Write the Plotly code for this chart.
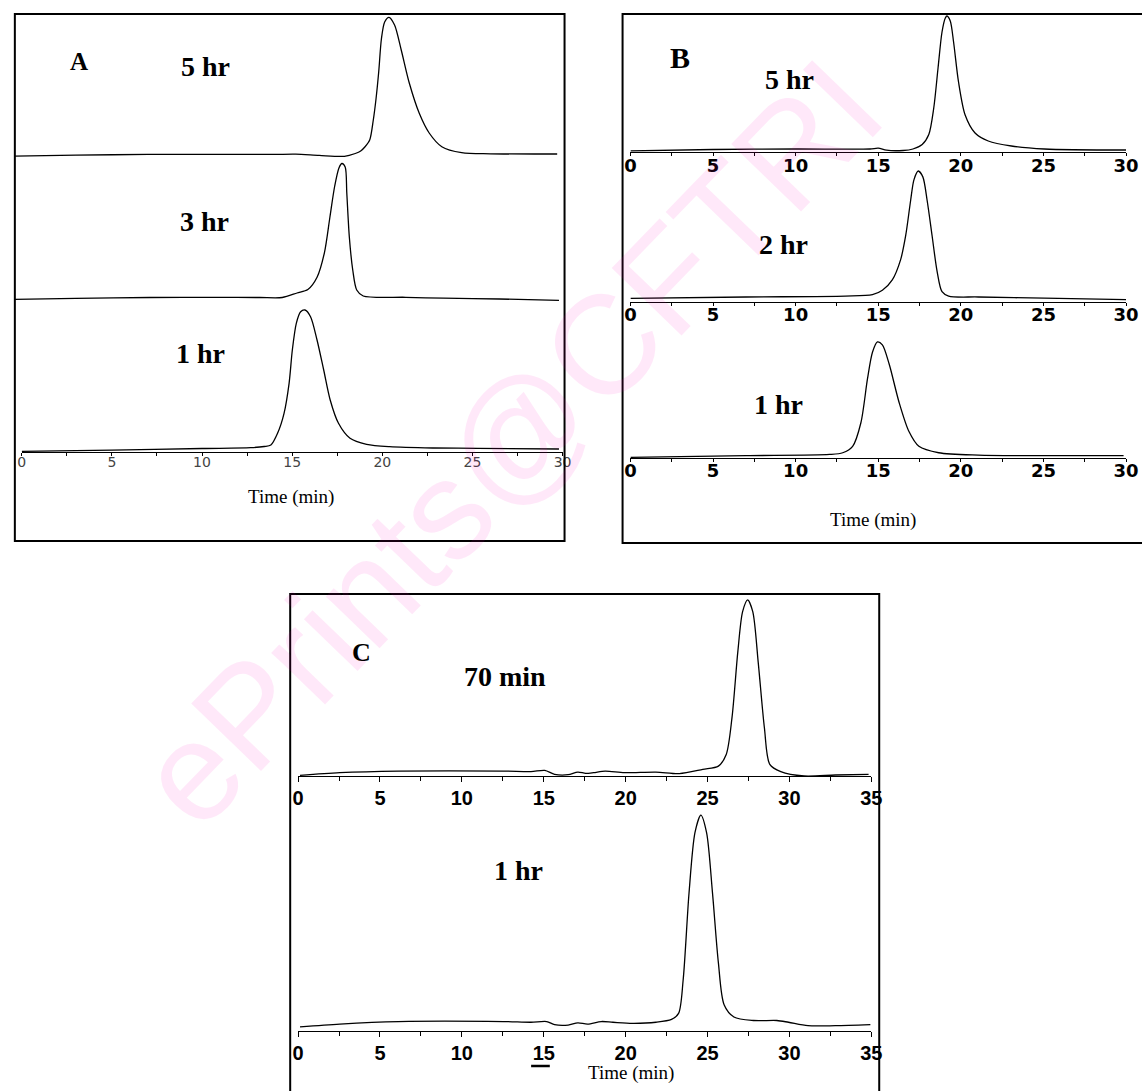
import plotly.graph_objects as go

W, H = 1142, 1091

# ---------------- data (time in min, signal in arbitrary detector units) ----------------
A_5hr_time = [-0.4, 3, 7, 11, 14, 15.2, 16.5, 17.9, 18.5, 18.8, 19.03, 19.3, 19.5, 19.65, 19.8, 19.95,
              20.13, 20.37, 20.68, 21.05, 21.5, 22.05, 22.6, 23.3, 24.4, 26, 29.7]
A_5hr_signal = [0.9, 1.8, 2.6, 2.6, 2.6, 2.8, 1.6, 0.7, 3.5, 6, 10, 17, 37, 58, 85, 118,
                135, 139.7, 132, 107, 73.7, 43.7, 24, 10.3, 4.3, 3.2, 3]

A_3hr_time = [-0.4, 3, 7.1, 11, 13.2, 14.45, 15.27, 15.87, 16.38, 16.79, 17.09, 17.36, 17.6, 17.76,
              17.94, 18.03, 18.17, 18.36, 18.58, 18.94, 21.3, 23.4, 26.5, 29.8]
A_3hr_signal = [0.7, 1.6, 2.5, 2.6, 2.5, 2.5, 7, 10.5, 22.8, 47.4, 82.5, 114, 132.3, 136.5,
                133, 107, 63, 30, 10, 4, 2.7, 1.8, 1, -0.4]

A_1hr_time = [0, 5, 10, 12.7, 13.45, 13.82, 14.19, 14.55, 14.83, 15.01, 15.23, 15.47, 15.71, 16.02,
              16.38, 16.75, 17.11, 17.57, 18.21, 19.13, 20.4, 22.8, 25.3, 29.8]
A_1hr_signal = [0.7, 1.8, 3.5, 4.3, 5.5, 7, 18.7, 38.7, 68.7, 102, 128.7, 140.3, 142, 135.3,
                112, 82, 52, 28.7, 13.7, 7.7, 5.3, 4, 3.7, 3]

B_5hr_time = [0, 5, 10, 14.5, 15.0, 15.5, 16.5, 17.1, 17.66, 18.06, 18.36, 18.62, 18.86, 19.06, 19.16,
              19.36, 19.56, 19.86, 20.26, 20.86, 21.66, 23.06, 25.06, 30]
B_5hr_signal = [1.2, 2.5, 3, 3, 3.8, 1.8, 1.5, 3, 7.5, 17.5, 44, 84, 120, 134, 136,
                131, 110, 70, 37, 19, 11, 6, 3, 2]

B_2hr_time = [0, 7.0, 13.0, 14.65, 15.25, 15.85, 16.36, 16.66, 16.96, 17.16, 17.42, 17.7, 17.96,
              18.26, 18.56, 18.86, 19.26, 21.06, 25.05, 30]
B_2hr_signal = [4.1, 5.8, 6.8, 8.5, 13.6, 25.6, 49.4, 76.7, 117.5, 141.4, 151.6, 144.8, 117.5,
                76.7, 35.8, 11.9, 6.8, 5.8, 4.4, 2.7]

B_1hr_time = [0, 7.0, 12.05, 12.85, 13.45, 13.95, 14.35, 14.65, 14.95, 15.25, 15.66, 16.26, 16.86,
              17.46, 18.66, 21.06, 25.05, 29.85]
B_1hr_signal = [0.7, 2.7, 4.1, 6.1, 13.6, 40.9, 92, 122.7, 134.6, 131.2, 109, 64.7, 30.7,
                13.6, 6.1, 3.4, 2.7, 2.7]

C_70min_time = [0.12, 2.55, 6.12, 12.54, 14.22, 15.06, 15.66, 16.49, 17.08, 17.56, 18.04, 18.75, 19.93,
                21.85, 23.28, 24.71, 25.66, 26.14, 26.49, 26.85, 27.14, 27.45, 27.76, 28.09, 28.47,
                28.8, 29.47, 30.89, 32.8, 34.83]
C_70min_signal = [0.7, 3.4, 5, 5, 4.4, 5.7, 1.7, 1.3, 4, 2.7, 3.4, 5, 3.4,
                  4, 2.4, 6.7, 10, 21.9, 59, 126.6, 167, 178.9, 167, 116, 49,
                  11.8, 4.4, 0, 1, 1.7]

C_1hr_time = [0.12, 2.55, 6.12, 12.54, 14.22, 15.18, 15.66, 16.49, 17.08, 17.68, 18.51, 19.22, 20.41,
              21.85, 22.8, 23.23, 23.51, 23.87, 24.23, 24.59, 24.94, 25.3, 25.66, 26.01, 26.61,
              27.8, 29.23, 29.94, 31.13, 32.8, 34.94]
C_1hr_signal = [4, 6.7, 9.1, 9.1, 8.4, 9.1, 6.1, 5.7, 7.8, 6.7, 9.1, 8.4, 7.4,
                8.4, 11.1, 16.9, 49, 133, 190.7, 207.6, 190.7, 133, 65.8, 25.3, 13.5,
                10.1, 10.1, 8.4, 5.1, 5.1, 6.1]

ticks_30 = [0, 5, 10, 15, 20, 25, 30]
ticks_35 = [0, 5, 10, 15, 20, 25, 30, 35]

# ---------------- layout helpers ----------------
def px(x):
    return x / W

def py(y):
    return 1 - y / H

fontA = dict(family="DejaVu Sans", size=14, color="#444444")
fontB = dict(family="DejaVu Sans", size=18, color="black", weight="bold")
fontC = dict(family="Liberation Sans", size=20, color="black", weight="bold")

# each trace: data, x-pixel domain, time range, axis line pixel y, height (units), px per unit
traces = [
    dict(t=A_5hr_time, s=A_5hr_signal, xl=8.7, xr=566, tr=[-0.4, 30], ay=157, h=150, k=1.0, show=False),
    dict(t=A_3hr_time, s=A_3hr_signal, xl=8.7, xr=566, tr=[-0.4, 30], ay=300, h=150, k=1.0, show=False),
    dict(t=A_1hr_time, s=A_1hr_signal, xl=16, xr=566, tr=[0, 30], ay=452, h=150, k=1.0, show=True,
         font=fontA, tv=ticks_30, tl=3, mtl=3, so=-6),
    dict(t=B_5hr_time, s=B_5hr_signal, xl=635, xr=1139, tr=[0, 30], ay=152, h=145, k=1.0, show=True,
         font=fontB, tv=ticks_30, tl=3, mtl=3, so=-6),
    dict(t=B_2hr_time, s=B_2hr_signal, xl=635, xr=1139, tr=[0, 30], ay=302, h=160, k=0.864, show=True,
         font=fontB, tv=ticks_30, tl=3, mtl=3, so=-7),
    dict(t=B_1hr_time, s=B_1hr_signal, xl=635, xr=1139, tr=[0, 30], ay=458, h=145, k=0.862, show=True,
         font=fontB, tv=ticks_30, tl=3, mtl=3, so=-7),
    dict(t=C_70min_time, s=C_70min_signal, xl=297, xr=880, tr=[0, 35], ay=776, h=190, k=0.984, show=True,
         font=fontC, tv=ticks_35, tl=5, mtl=4, so=-1),
    dict(t=C_1hr_time, s=C_1hr_signal, xl=297, xr=880, tr=[0, 35], ay=1031, h=215, k=1.04, show=True,
         font=fontC, tv=ticks_35, tl=5, mtl=4, so=-1),
]

fig = go.Figure()
layout_axes = {}
pad = 6
for i, tr in enumerate(traces, start=1):
    xname = "x" if i == 1 else f"x{i}"
    yname = "y" if i == 1 else f"y{i}"
    xkey = "xaxis" if i == 1 else f"xaxis{i}"
    ykey = "yaxis" if i == 1 else f"yaxis{i}"
    fig.add_trace(go.Scatter(x=tr["t"], y=tr["s"], xaxis=xname, yaxis=yname, mode="lines",
                             line=dict(color="black", width=1.3, shape="spline", smoothing=0.8),
                             showlegend=False, hoverinfo="skip"))
    xa = dict(domain=[px(tr["xl"]), px(tr["xr"])], range=tr["tr"], anchor="free",
              position=py(tr["ay"]), showgrid=False, zeroline=False, fixedrange=True)
    if tr["show"]:
        xa.update(showline=True, linecolor="black", linewidth=1, ticks="outside",
                  tickmode="array", tickvals=tr["tv"], ticklen=tr["tl"], tickwidth=1,
                  tickcolor="black", tickfont=tr["font"], ticklabelstandoff=tr["so"],
                  minor=dict(dtick=2.5, tick0=0, ticks="outside", ticklen=tr["mtl"],
                             tickcolor="black", tickwidth=1))
    else:
        xa.update(visible=False)
    layout_axes[xkey] = xa
    k = tr["k"]
    layout_axes[ykey] = dict(domain=[py(tr["ay"] + pad * k), py(tr["ay"] - tr["h"] * k)],
                             range=[-pad, tr["h"]], visible=False, anchor=xname,
                             fixedrange=True)

# ---------------- boxes ----------------
shapes = []
for (x0, y0, x1, y1) in [(9, 14, 568, 541), (627, 14, 1160, 543), (289, 594, 888, 1110)]:
    shapes.append(dict(type="rect", xref="paper", yref="paper", x0=px(x0), x1=px(x1),
                       y0=py(y1), y1=py(y0), line=dict(color="black", width=2),
                       fillcolor="rgba(0,0,0,0)", layer="above"))
# small stray dash seen left of the C axis title in the original figure
shapes.append(dict(type="line", xref="paper", yref="paper", x0=px(534), x1=px(553),
                   y0=py(1066), y1=py(1066), line=dict(color="black", width=2.5)))

# ---------------- text ----------------
lab = dict(family="Liberation Serif", size=28, color="black", weight="bold")
time_font = dict(family="Liberation Serif", size=19, color="black")
texts = [
    ("A", 74, 61, dict(lab, size=25)),
    ("5 hr", 203, 67, lab),
    ("3 hr", 202, 221, lab),
    ("1 hr", 198, 353, lab),
    ("Time (min)", 290, 497, time_font),
    ("B", 685, 58, dict(lab, size=30)),
    ("5 hr", 797, 79, lab),
    ("2 hr", 791, 244, lab),
    ("1 hr", 786, 404, lab),
    ("Time (min)", 882, 520, time_font),
    ("C", 362, 652, dict(lab, size=26)),
    ("70 min", 507, 676, lab),
    ("1 hr", 521, 870, lab),
    ("Time (min)", 636, 1073, time_font),
]
annotations = [dict(text="ePrints@CFTRI", x=px(512), y=py(443), xref="paper", yref="paper",
                    showarrow=False, textangle=-46,
                    font=dict(family="Liberation Sans", size=141, color="rgba(255,0,190,0.09)"),
                    xanchor="center", yanchor="middle")]
for txt, x, y, f in texts:
    annotations.append(dict(text=txt, x=px(x), y=py(y), xref="paper", yref="paper",
                            showarrow=False, font=f, xanchor="center", yanchor="middle"))

fig.update_layout(width=W, height=H, margin=dict(l=0, r=0, t=0, b=0),
                  paper_bgcolor="white", plot_bgcolor="rgba(0,0,0,0)",
                  shapes=shapes, annotations=annotations, showlegend=False, **layout_axes)

fig.write_html("out.html")
